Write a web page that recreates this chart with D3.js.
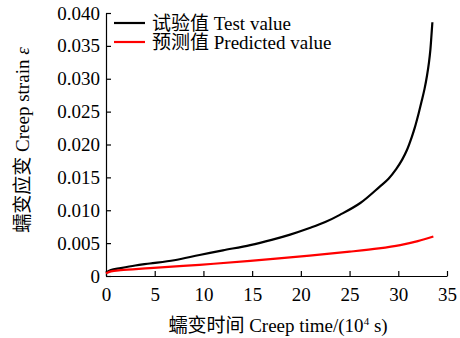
<!DOCTYPE html>
<html lang="zh">
<head>
<meta charset="UTF-8">
<title>Creep strain</title>
<script src="https://d3js.org/d3.v7.min.js"></script>
<style>
  body { margin: 0; background: #fff; }
  svg text { font-family: "Liberation Serif", "Noto Sans CJK SC", serif; font-size: 19px; fill: #000; }
</style>
</head>
<body>
<div id="chart"></div>
<script>
// creep time (10^4 s) and strain
const testTime   = [0, 0.5, 1.5, 3, 4.5, 7, 9.6, 12, 14.8, 17, 18.9, 20.9, 22.5, 24, 26.1, 28.1, 29, 29.8, 30.4, 30.9, 31.4, 31.7, 32.1, 32.4, 32.7, 32.95, 33.15, 33.3, 33.4, 33.5];
const testStrain = [0.0005, 0.0009, 0.0012, 0.0016, 0.0019, 0.0024, 0.0032, 0.0039, 0.0047, 0.0055, 0.0063, 0.0073, 0.0082, 0.0093, 0.0111, 0.0136, 0.0148, 0.0163, 0.0177, 0.0192, 0.0212, 0.0226, 0.0248, 0.0266, 0.0285, 0.0305, 0.0325, 0.0345, 0.0365, 0.0386];
const predTime   = [0, 0.5, 1.5, 4.5, 9.6, 14.8, 20.9, 25, 28, 30.2, 32, 33.6];
const predStrain = [0.0004, 0.0007, 0.0009, 0.0012, 0.0017, 0.0023, 0.0031, 0.0037, 0.0042, 0.0047, 0.0053, 0.0060];
const xTicks = [0, 5, 10, 15, 20, 25, 30, 35];
const yTicks = [0, 0.005, 0.010, 0.015, 0.020, 0.025, 0.030, 0.035, 0.040];
const seriesNames = ["试验值 Test value", "预测值 Predicted value"];
const seriesColors = ["#000000", "#ff0000"];

const width = 460, height = 338;
const margin = {left: 106, right: 13, top: 13, bottom: 62};

const svg = d3.select("#chart").append("svg")
  .attr("width", width)
  .attr("height", height);

const x = d3.scaleLinear().domain([0, 35]).range([margin.left, width - margin.right]);
const y = d3.scaleLinear().domain([0, 0.04]).range([height - margin.bottom, margin.top]);

// axes, ticks pointing inward
const xAxis = svg.append("g")
  .attr("transform", `translate(0,${height - margin.bottom})`)
  .call(d3.axisBottom(x).tickValues(xTicks).tickSizeInner(-5).tickSizeOuter(0).tickPadding(12));

const yAxis = svg.append("g")
  .attr("transform", `translate(${margin.left},0)`)
  .call(d3.axisLeft(y).tickValues(yTicks).tickSizeInner(-5).tickSizeOuter(0).tickPadding(6)
    .tickFormat(d => d === 0 ? "0" : d3.format(".3f")(d)));

[xAxis, yAxis].forEach(g => {
  g.attr("font-family", null).attr("font-size", null);
  g.selectAll("path, line").attr("stroke", "#000").attr("stroke-width", 1.2);
});

const line = d3.line()
  .x(d => x(d[0]))
  .y(d => y(d[1]))
  .curve(d3.curveCatmullRom.alpha(0.5));

const series = [
  d3.zip(testTime, testStrain),
  d3.zip(predTime, predStrain)
];

svg.selectAll(".curve")
  .data(series)
  .join("path")
  .attr("class", "curve")
  .attr("fill", "none")
  .attr("stroke", (d, i) => seriesColors[i])
  .attr("stroke-width", 2.2)
  .attr("d", line);

// legend
const legend = svg.append("g");
seriesNames.forEach((name, i) => {
  const ly = 23 + i * 19;
  legend.append("line")
    .attr("x1", 114).attr("x2", 145)
    .attr("y1", ly).attr("y2", ly)
    .attr("stroke", seriesColors[i]).attr("stroke-width", 2.2);
  legend.append("text")
    .attr("x", 152).attr("y", ly)
    .attr("dy", "0.35em")
    .text(name);
});

// axis titles
svg.append("text")
  .attr("x", 278).attr("y", 332)
  .attr("text-anchor", "middle")
  .html('蠕变时间 Creep time/(10<tspan dy="-7" style="font-size:11px">4</tspan><tspan dy="7"> s)</tspan>');

svg.append("text")
  .attr("transform", "translate(29,140) rotate(-90)")
  .attr("text-anchor", "middle")
  .html('蠕变应变 Creep strain <tspan font-style="italic">ε</tspan>');
</script>
</body>
</html>
